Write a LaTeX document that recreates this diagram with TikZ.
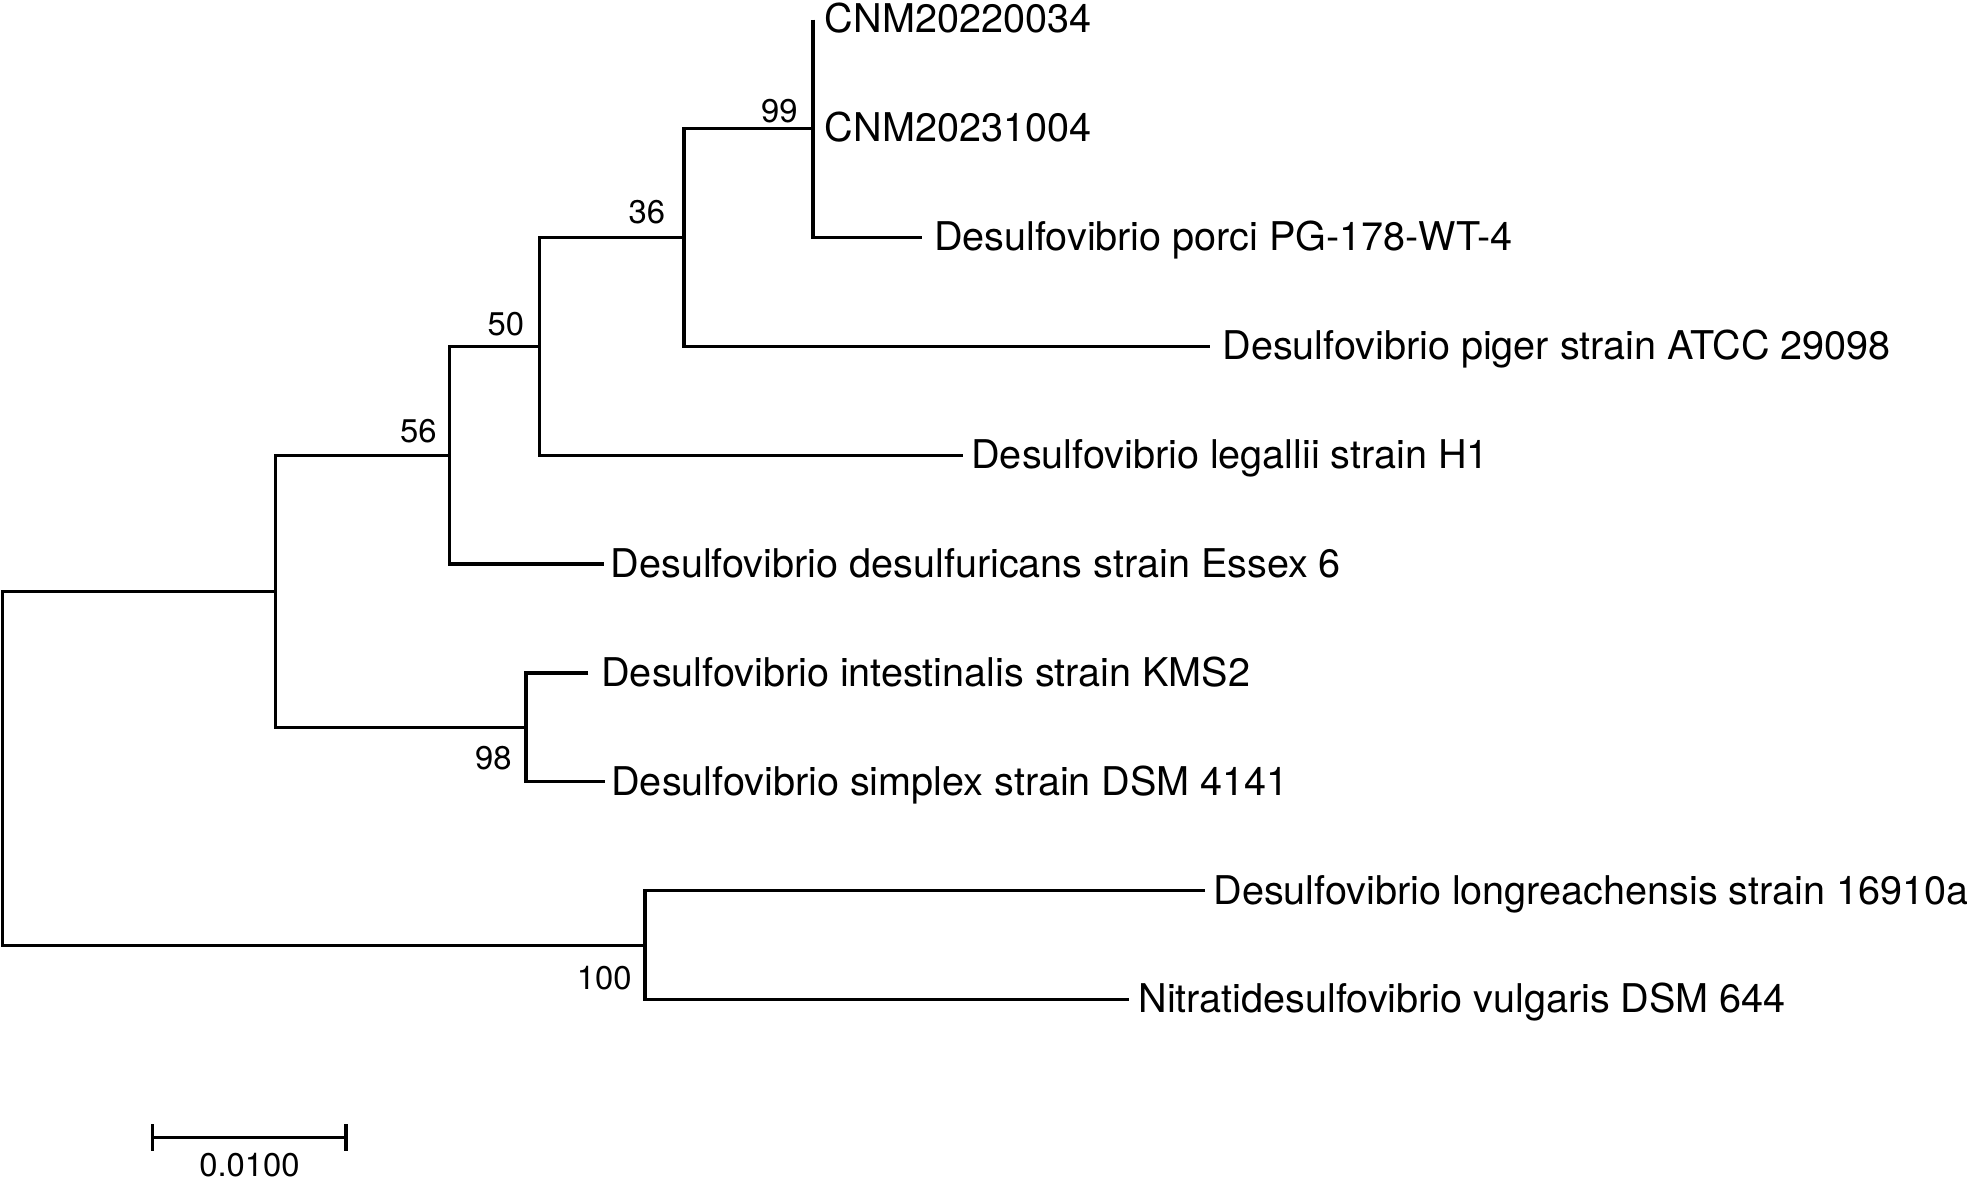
\documentclass[tikz,border=0pt]{standalone}
\usepackage{fontspec}
\setmainfont{TeX Gyre Heros}
\begin{document}
\begin{tikzpicture}[x=0.5pt,y=-0.5pt,
  branch/.style={line width=1.6pt,line join=miter,line cap=butt},
  leaflabel/.style={anchor=base west,inner sep=0pt,font=\fontsize{19.8pt}{23pt}\selectfont},
  bootlabel/.style={anchor=base east,inner sep=0pt,font=\fontsize{16.4pt}{19pt}\selectfont},
  scalelabel/.style={anchor=base,inner sep=0pt,font=\fontsize{16.4pt}{19pt}\selectfont}]
\useasboundingbox (0,0) rectangle (1967,1179);
% internal nodes
\coordinate (n99) at (813,128.4);
\coordinate (n36) at (684,237.3);
\coordinate (n50) at (539.3,346.2);
\coordinate (n56) at (449.3,455.1);
\coordinate (n98) at (526,727.35);
\coordinate (nA) at (275.3,591.2);
\coordinate (n100) at (645,945.15);
\coordinate (root) at (2.7,768.2);
% tips
\coordinate (t1) at (813,19.5);
\coordinate (t3) at (921.7,237.3);
\coordinate (t4) at (1210,346.2);
\coordinate (t5) at (963.3,455.1);
\coordinate (t6) at (604.3,564);
\coordinate (t7) at (588.3,672.9);
\coordinate (t8) at (605,781.8);
\coordinate (t9) at (1205,890.7);
\coordinate (t10) at (1129.3,999.6);
% branches
\draw[branch] (t1) -- (n99) |- (t3);
\draw[branch] (n99) -| (n36) |- (t4);
\draw[branch] (n36) -| (n50) |- (t5);
\draw[branch] (n50) -| (n56) |- (t6);
\draw[branch] (n56) -| (nA) |- (n98);
\draw[branch] (t7) -| (n98) |- (t8);
\draw[branch] (nA) -| (root) |- (n100);
\draw[branch] (t9) -| (n100) |- (t10);
% leaf labels
\node[leaflabel] (L1) at (824.5,32.8) {CNM20220034};
\node[leaflabel] (L2) at (824.5,141.7) {CNM20231004};
\node[leaflabel] (L3) at (933.7,250.6) {Desulfovibrio porci PG-178-WT-4};
\node[leaflabel] (L4) at (1222,359.5) {Desulfovibrio piger strain ATCC 29098};
\node[leaflabel] (L5) at (971,468.4) {Desulfovibrio legallii strain H1};
\node[leaflabel] (L6) at (610.3,577.3) {Desulfovibrio desulfuricans strain Essex 6};
\node[leaflabel] (L7) at (601,686.2) {Desulfovibrio intestinalis strain KMS2};
\node[leaflabel] (L8) at (611,795.1) {Desulfovibrio simplex strain DSM 4141};
\node[leaflabel] (L9) at (1213,904) {Desulfovibrio longreachensis strain 16910a};
\node[leaflabel] (L10) at (1138,1012.9) {Nitratidesulfovibrio vulgaris DSM 644};
% bootstrap values
\node[bootlabel] (b99) at (798,122) {99};
\node[bootlabel] (b36) at (665.5,223) {36};
\node[bootlabel] (b50) at (524.5,335) {50};
\node[bootlabel] (b56) at (437,442.5) {56};
\node[bootlabel] (b98) at (512,769) {98};
\node[bootlabel] (b100) at (632,989.5) {100};
% scale bar
\coordinate (sb1) at (152.7,1137.3);
\coordinate (sb2) at (346,1137.3);
\coordinate (sb1t) at (152.7,1124.3);
\coordinate (sb1b) at (152.7,1150.7);
\coordinate (sb2t) at (346,1124.3);
\coordinate (sb2b) at (346,1150.7);
\draw[branch] (sb1) -- (sb2);
\draw[branch] (sb1t) -- (sb1b);
\draw[branch] (sb2t) -- (sb2b);
\node[scalelabel] (sl) at (249.5,1176.5) {0.0100};
\end{tikzpicture}
\end{document}
